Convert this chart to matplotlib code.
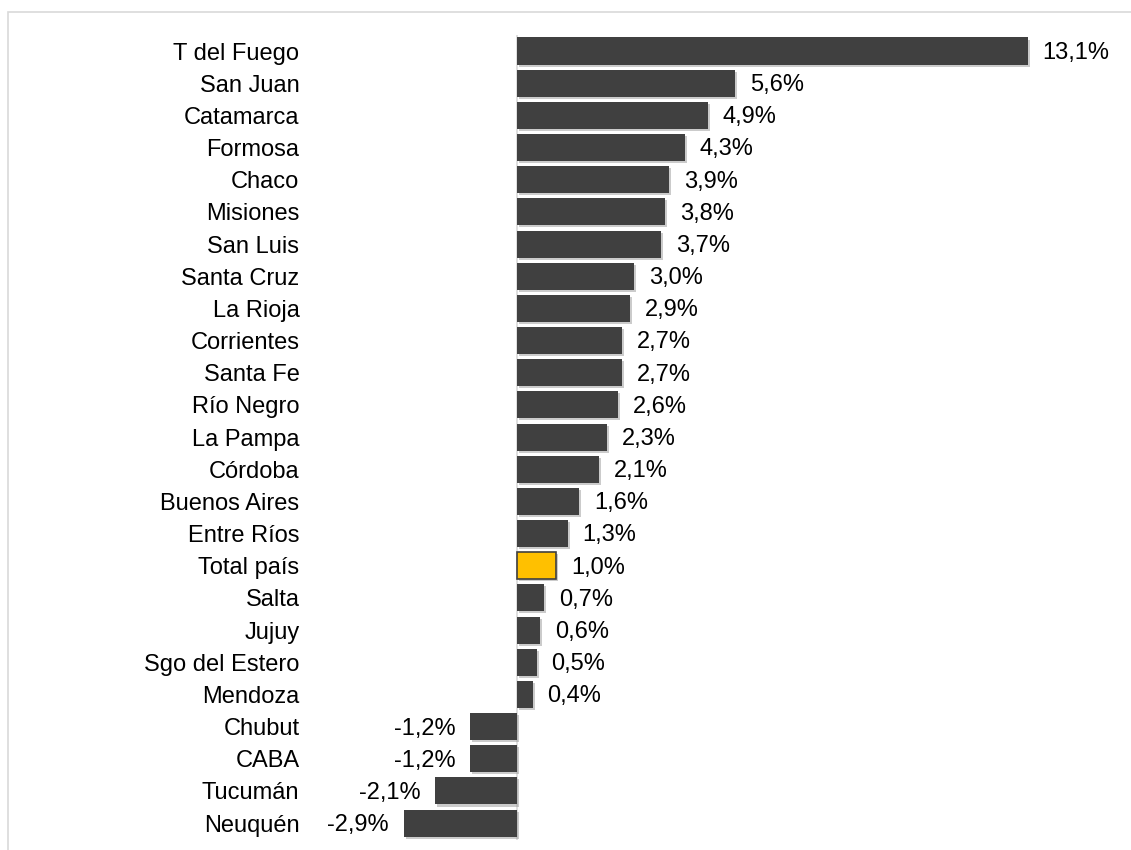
import matplotlib
matplotlib.use("Agg")
from matplotlib import pyplot as plt
from matplotlib.patches import Rectangle
import matplotlib.patheffects as pe

provincias = ["T del Fuego", "San Juan", "Catamarca", "Formosa", "Chaco", "Misiones",
              "San Luis", "Santa Cruz", "La Rioja", "Corrientes", "Santa Fe", "Río Negro",
              "La Pampa", "Córdoba", "Buenos Aires", "Entre Ríos", "Total país", "Salta",
              "Jujuy", "Sgo del Estero", "Mendoza", "Chubut", "CABA", "Tucumán", "Neuquén"]
variacion = [13.1, 5.6, 4.9, 4.3, 3.9, 3.8, 3.7, 3.0, 2.9, 2.7, 2.7, 2.6, 2.3, 2.1,
             1.6, 1.3, 1.0, 0.7, 0.6, 0.5, 0.4, -1.2, -1.2, -2.1, -2.9]

plt.rcParams['font.family'] = ['Liberation Sans', 'DejaVu Sans']

W, H = 1131, 850
fig = plt.figure(figsize=(W / 100, H / 100), dpi=100)
# axes placed in pixel terms so that 0 sits at x=517 and 1% = 39 px
left_px, right_px, top_px, bot_px = 330, 1100, 35, 840
ax = fig.add_axes([left_px / W, 1 - bot_px / H, (right_px - left_px) / W, (bot_px - top_px) / H])
ax.set_xlim((left_px - 517) / 39, (right_px - 517) / 39)
ax.set_ylim((bot_px - 51) / 32.17, (top_px - 51) / 32.17)

colores = ["#FFC000" if p == "Total país" else "#404040" for p in provincias]
bordes = ["#404040" if p == "Total país" else "none" for p in provincias]
y = list(range(len(provincias)))
bars = ax.barh(y, variacion, height=0.84, color=colores, edgecolor=bordes, linewidth=1.2, zorder=3)
for b in bars:
    b.set_path_effects([pe.SimplePatchShadow(offset=(1.5, -1.5), shadow_rgbFace="#999999", alpha=0.5),
                        pe.Normal()])

# zero line
ax.axvline(0, color="#d9d9d9", lw=1.2, zorder=2)

for yi, v in zip(y, variacion):
    txt = f"{v:.1f}%".replace(".", ",")
    if v >= 0:
        ax.text(v + 0.38, yi + 0.06, txt, ha="left", va="center", fontsize=17, color="black")
    else:
        ax.text(v - 0.38, yi + 0.06, txt, ha="right", va="center", fontsize=17, color="black")

ax.set_yticks(y)
ax.set_yticklabels(provincias, fontsize=17)
ax.tick_params(axis="y", length=0, pad=22)
ax.set_xticks([])
for s in ax.spines.values():
    s.set_visible(False)

# light outer frame
fig.add_artist(Rectangle((8 / W, -0.1), 1.2, 1.1 - 12 / H, transform=fig.transFigure,
                         fill=False, edgecolor="#d9d9d9", lw=1.2))

plt.savefig("out.png", dpi=100)
